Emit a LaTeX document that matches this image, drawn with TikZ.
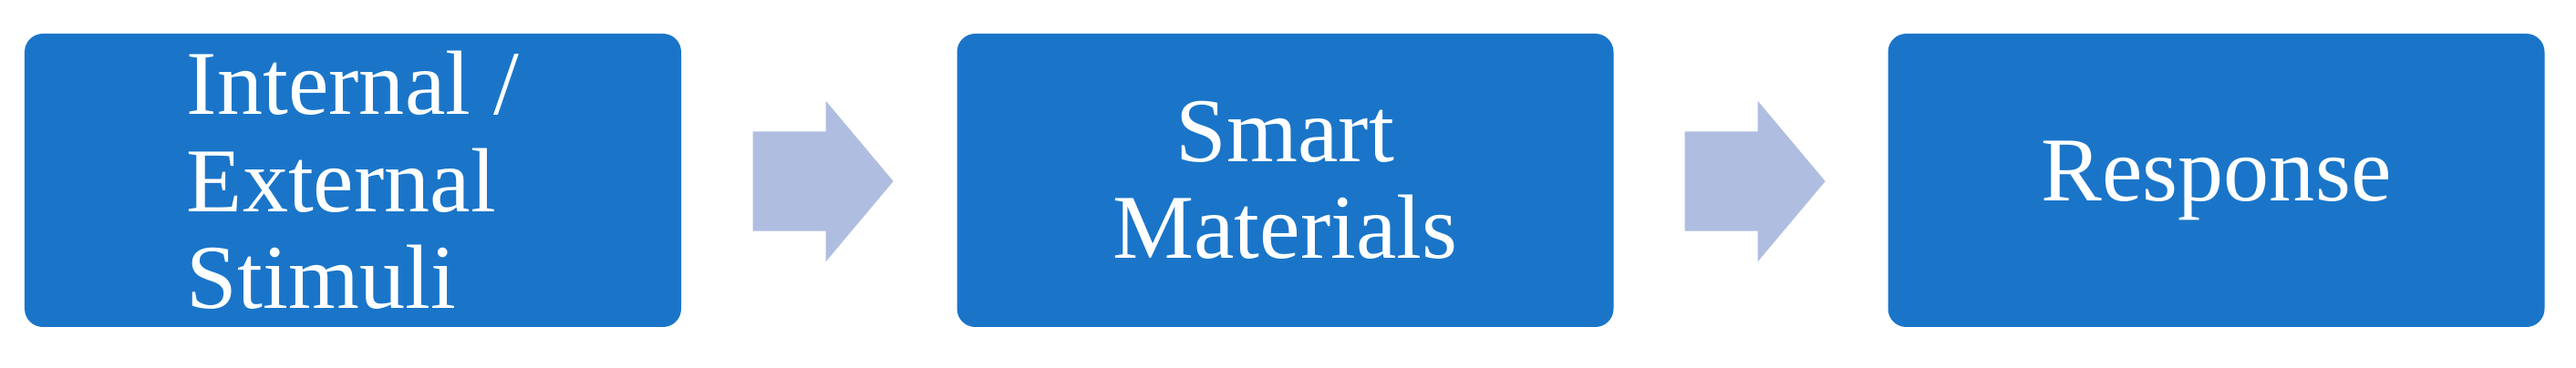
\documentclass[tikz,border=0pt]{standalone}
\usepackage{fontspec}
\setmainfont{Liberation Serif}
\usepackage{tikz}
\usetikzlibrary{shapes.arrows}

\definecolor{boxblue}{RGB}{26,117,201}
\definecolor{arrowblue}{RGB}{175,190,224}

\begin{document}
\begin{tikzpicture}[auto,
  stage/.style={fill=boxblue, rounded corners=0.2cm, minimum width=7.2cm,
                minimum height=3.22cm, inner sep=0pt, text=white,
                font=\fontsize{28.5}{30.3}\selectfont},
  blockarrow/.style={single arrow, fill=arrowblue, inner xsep=0pt, inner ysep=0.54cm,
                minimum height=1.54cm, minimum width=0pt, anchor=tail,
                single arrow head extend=0.335cm, single arrow tip angle=100}]
\useasboundingbox (0,0) rectangle (28.25,4.04);
\node[stage, align=left] (stimuli)  at (3.87,2.06)   {Internal /\\External\\Stimuli};
\node[stage, align=center] (smart)  at (14.095,2.06) {Smart\\Materials};
\node[stage] (response)             at (24.305,2.06) {Response};
\node[blockarrow] (arrow1) at (8.25,2.05)  {};
\node[blockarrow] (arrow2) at (18.47,2.05) {};
\end{tikzpicture}
\end{document}
